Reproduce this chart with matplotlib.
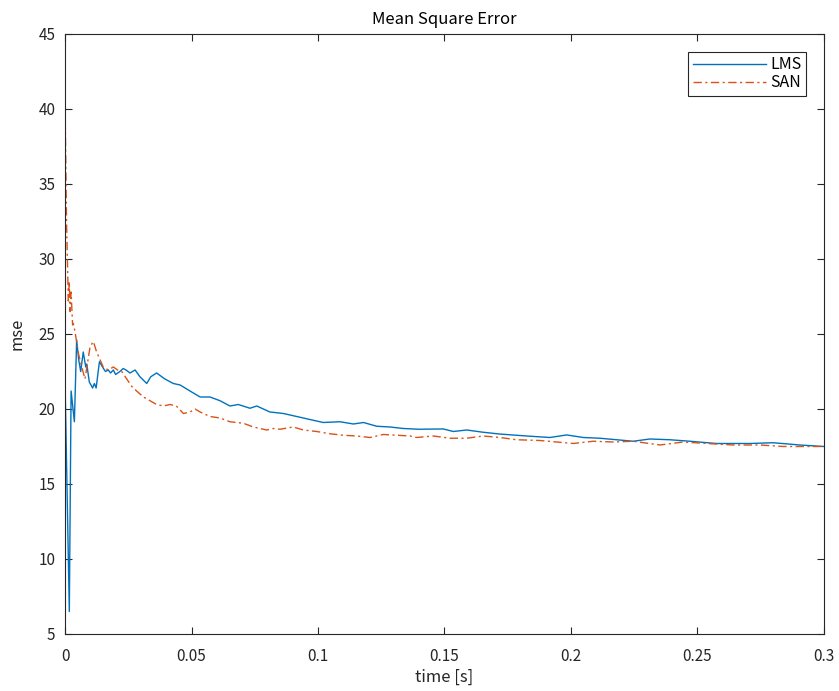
import numpy as np
import matplotlib.pyplot as plt

plt.rcParams["font.family"] = ["Noto Sans CJK JP", "DejaVu Sans"]

# LMS curve
t_lms = [0, 0.0017, 0.0024, 0.0037, 0.0046, 0.0054, 0.0062, 0.0072, 0.0082, 0.0086,
         0.0096, 0.0109, 0.0116, 0.0123, 0.0136, 0.0152, 0.0160, 0.0171, 0.0180, 0.0191,
         0.0200, 0.0217, 0.0230, 0.0241, 0.0257, 0.0277, 0.0296, 0.0323, 0.0339, 0.0362,
         0.0395, 0.0428, 0.0455, 0.0494, 0.0534, 0.0573, 0.0613, 0.0652, 0.0685, 0.0731,
         0.0758, 0.0810, 0.0863, 0.0916, 0.0968, 0.1021, 0.1087, 0.1140, 0.1180, 0.1232,
         0.1285, 0.1337, 0.1400, 0.1495, 0.1535, 0.1588, 0.1653, 0.1719, 0.1825, 0.1917,
         0.1983, 0.2049, 0.2115, 0.2246, 0.2312, 0.2391, 0.2470, 0.2576, 0.2708, 0.2800,
         0.2905, 0.3000]
mse_lms = [21.9, 6.5, 21.2, 19.15, 24.6, 23.3, 22.5, 23.8, 22.8, 23.0,
           21.8, 21.4, 21.7, 21.4, 23.15, 22.7, 22.5, 22.6, 22.4, 22.6,
           22.3, 22.5, 22.7, 22.6, 22.4, 22.6, 22.15, 21.7, 22.15, 22.4,
           22.0, 21.7, 21.6, 21.2, 20.8, 20.8, 20.55, 20.2, 20.3, 20.05,
           20.2, 19.8, 19.7, 19.5, 19.3, 19.1, 19.15, 19.0, 19.1, 18.85,
           18.8, 18.7, 18.65, 18.67, 18.5, 18.6, 18.45, 18.33, 18.2, 18.1,
           18.27, 18.1, 18.05, 17.85, 18.0, 17.95, 17.85, 17.7, 17.7, 17.75,
           17.6, 17.5]

# SAN curve
t_san = [0, 0.0003, 0.0006, 0.0010, 0.0013, 0.0017, 0.0020, 0.0024, 0.0030, 0.0033,
         0.0040, 0.0053, 0.0066, 0.0079, 0.0092, 0.0099, 0.0112, 0.0125, 0.0138, 0.0151,
         0.0171, 0.0191, 0.0208, 0.0224, 0.0244, 0.0264, 0.0283, 0.0310, 0.0336, 0.0362,
         0.0389, 0.0415, 0.0440, 0.0468, 0.0494, 0.0514, 0.0534, 0.0573, 0.0613, 0.0652,
         0.0705, 0.0744, 0.0797, 0.0823, 0.0850, 0.0902, 0.0942, 0.0995, 0.1047, 0.1100,
         0.1153, 0.1206, 0.1258, 0.1311, 0.1364, 0.1390, 0.1456, 0.1522, 0.1588, 0.1653,
         0.1720, 0.1785, 0.1877, 0.2009, 0.2088, 0.2167, 0.2246, 0.2352, 0.2444, 0.2536,
         0.2642, 0.2747, 0.2839, 0.2918, 0.3000]
mse_san = [40.4, 36.5, 32.5, 29.5, 27.2, 28.5, 26.5, 27.8, 25.6, 25.7,
           25.1, 23.7, 22.8, 22.0, 23.4, 24.15, 24.5, 23.8, 23.3, 22.8,
           22.6, 22.8, 22.6, 22.5, 22.0, 21.5, 21.2, 20.8, 20.55, 20.3,
           20.2, 20.3, 20.2, 19.7, 19.8, 20.0, 19.8, 19.5, 19.4, 19.15,
           19.05, 18.8, 18.6, 18.7, 18.65, 18.8, 18.6, 18.5, 18.35, 18.25,
           18.2, 18.1, 18.3, 18.25, 18.2, 18.1, 18.2, 18.05, 18.05, 18.2,
           18.1, 17.95, 17.9, 17.7, 17.85, 17.8, 17.85, 17.6, 17.8, 17.7,
           17.6, 17.6, 17.5, 17.5, 17.5]

x_ticks = [0, 0.05, 0.1, 0.15, 0.2, 0.25, 0.3]
x_tick_labels = ["0", "0.05", "0.1", "0.15", "0.2", "0.25", "0.3"]
y_ticks = [5, 10, 15, 20, 25, 30, 35, 40, 45]

fig = plt.figure(figsize=(8.39, 6.91), dpi=100)
ax = fig.add_axes([0.0775, 0.0825, 0.9045, 0.8683])

ax.plot(t_lms, mse_lms, color="#0072BD", lw=1.0, label="LMS")
ax.plot(t_san, mse_san, color="#D95319", lw=1.0, linestyle=(0, (6, 2.5, 1.5, 2.5)), label="SAN")

ax.set_xlim(0, 0.3)
ax.set_ylim(5, 45)
ax.set_xticks(x_ticks)
ax.set_xticklabels(x_tick_labels)
ax.set_yticks(y_ticks)
ax.tick_params(direction="in", top=True, right=True, labelsize=11, colors="#262626", length=5)
ax.tick_params(axis="x", pad=10)
ax.tick_params(axis="y", pad=7)
for s in ax.spines.values():
    s.set_color("#262626")
    s.set_linewidth(0.8)

ax.set_title("Mean Square Error", fontsize=12, color="#000000", pad=7)
ax.set_xlabel("time [s]", fontsize=12, color="#262626", labelpad=3)
ax.set_ylabel("mse", fontsize=12, color="#262626", labelpad=9)

leg = ax.legend(loc="upper right", fontsize=11.5, fancybox=False, edgecolor="#262626",
                framealpha=1, borderaxespad=1.1, handlelength=4.6, handletextpad=0.25,
                labelspacing=0.05, borderpad=0.3)
leg.get_frame().set_linewidth(0.8)

fig.savefig("out.png", dpi=100)
